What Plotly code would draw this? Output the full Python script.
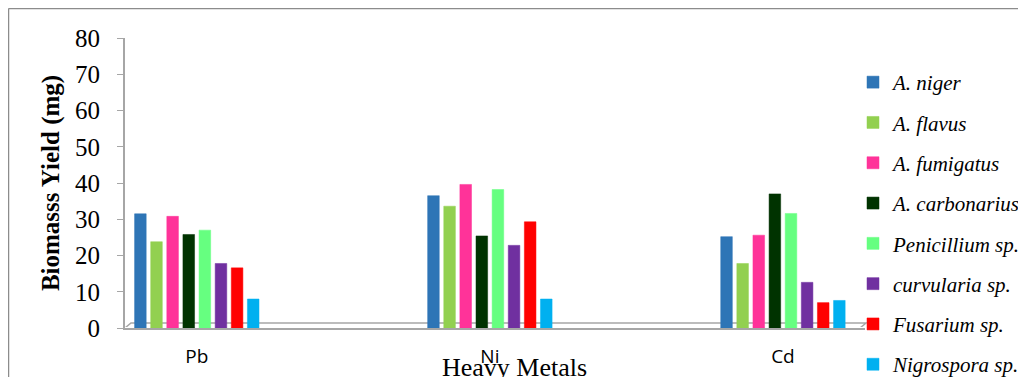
import plotly.graph_objects as go

metals = ["Pb", "Ni", "Cd"]
species = ["A. niger", "A. flavus", "A. fumigatus", "A. carbonarius",
           "Penicillium sp.", "curvularia sp.", "Fusarium sp.", "Nigrospora sp."]
values = {
    "A. niger":        [31.5, 36.5, 25.2],
    "A. flavus":       [23.8, 33.6, 17.8],
    "A. fumigatus":    [30.8, 39.6, 25.6],
    "A. carbonarius":  [25.8, 25.4, 37.0],
    "Penicillium sp.": [27.0, 38.2, 31.6],
    "curvularia sp.":  [17.8, 22.8, 12.6],
    "Fusarium sp.":    [16.6, 29.3, 7.0],
    "Nigrospora sp.":  [8.0, 8.0, 7.6],
}
colors = ["#2E75B6", "#92D050", "#FF3399", "#003300",
          "#66FF80", "#7030A0", "#FF0000", "#00B0F0"]
yticks = [0, 10, 20, 30, 40, 50, 60, 70, 80]

# page body has an 8px margin; reference-pixel -> paper helpers
def PX(px):
    return (px - 125) / 740

def PY(py):
    return (328 - py) / 290

fig = go.Figure()
for i, (sp, c) in enumerate(zip(species, colors)):
    fig.add_trace(go.Bar(
        x=list(range(len(metals))), y=values[sp], name=sp,
        marker=dict(color=c, line=dict(color=c, width=0.5)),
        legendgroup=f"g{i}",
    ))

fig.update_layout(
    width=1018, height=369,
    margin=dict(l=117, r=161, t=30, b=49, autoexpand=False),
    paper_bgcolor="white", plot_bgcolor="white",
    barmode="group", bargap=0.56, bargroupgap=0.28,
    font=dict(family="Liberation Serif", color="black"),
    showlegend=True,
    legend=dict(x=PX(853), y=PY(62), xanchor="left", yanchor="top",
                font=dict(family="Liberation Serif", size=21, style="italic"),
                tracegroupgap=10, itemwidth=30, bgcolor="rgba(0,0,0,0)",
                maxheight=700),
    xaxis=dict(range=[-0.245, 2.28], tickmode="array",
               tickvals=list(range(len(metals))), ticktext=metals,
               showgrid=False, showline=True, linecolor="#A6A6A6", linewidth=2,
               ticks="", ticklabelstandoff=10,
               tickfont=dict(family="Open Sans", size=19, color="black")),
    yaxis=dict(range=[0, 80], tickvals=yticks, showgrid=False,
               showline=True, linecolor="#A6A6A6", linewidth=2,
               ticks="outside", ticklen=6, tickcolor="#A6A6A6",
               ticklabelstandoff=12,
               tickfont=dict(family="Liberation Serif", size=25),
               title=dict(text="<b>Biomasss Yield (mg)</b>", standoff=8,
                          font=dict(family="Liberation Serif", size=25))),
)

fig.add_annotation(text="Heavy Metals", xref="paper", yref="paper",
                   x=PX(515), y=PY(367),
                   showarrow=False, yanchor="middle", xanchor="center",
                   font=dict(family="Liberation Serif", size=26))

# 3D-style floor band under the bars
fig.add_shape(type="path", xref="paper", yref="paper", layer="below",
              path=(f"M {PX(125)},{PY(328)} L {PX(860)},{PY(328)} "
                    f"L {PX(866)},{PY(323)} L {PX(131)},{PY(323)} Z"),
              line=dict(color="#A6A6A6", width=1.5), fillcolor="white")

# chart-area border (top and left edges visible)
fig.add_shape(type="line", xref="paper", yref="paper",
              x0=PX(8.5), x1=PX(1030), y0=PY(8.5), y1=PY(8.5),
              line=dict(color="#8C8C8C", width=1.5))
fig.add_shape(type="line", xref="paper", yref="paper",
              x0=PX(8.5), x1=PX(8.5), y0=PY(8.5), y1=PY(380),
              line=dict(color="#8C8C8C", width=1.5))

fig.write_html("out.html")
